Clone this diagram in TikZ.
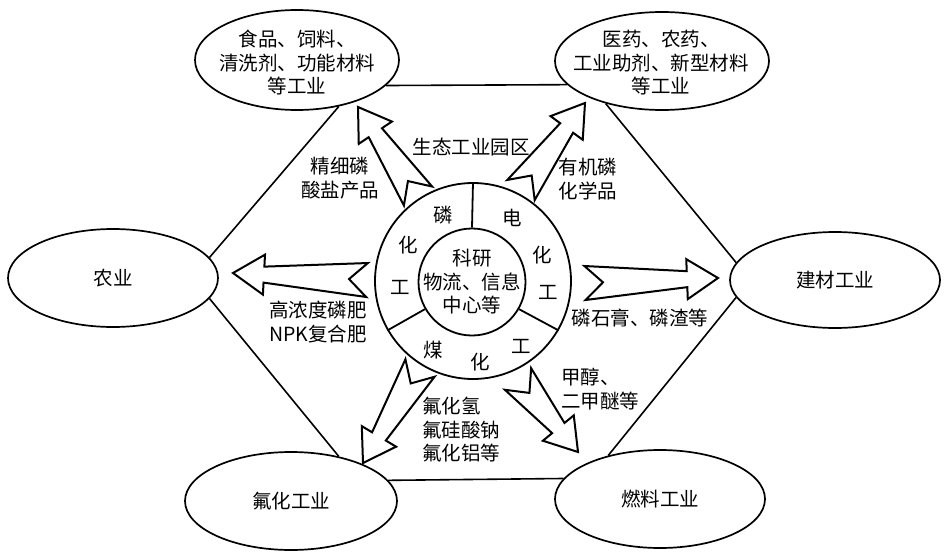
\documentclass[tikz,border=0pt]{standalone}
\usepackage{fontspec}
\newfontfamily\cjk{Noto Sans CJK SC}
\usetikzlibrary{calc,shapes.geometric}

% block arrow with notched tail: #1 tail, #2 tip
\newcommand{\fatarrow}[2]{%
  \draw[fat] (#2)
    -- ($(#2)!31pt!(#1)!20pt!-90:(#1)$)
    -- ($(#2)!31pt!(#1)!8pt!-90:(#1)$)
    -- ($(#1)!17pt!90:(#2)$)
    -- ($(#1)!18pt!(#2)$)
    -- ($(#1)!17pt!-90:(#2)$)
    -- ($(#2)!31pt!(#1)!8pt!90:(#1)$)
    -- ($(#2)!31pt!(#1)!20pt!90:(#1)$)
    -- cycle;}

\begin{document}
\begin{tikzpicture}[
  x=1pt, y=-1pt,
  font=\cjk\fontsize{19.5}{23.5}\selectfont,
  indust/.style={ellipse, draw, line width=1.7pt, inner sep=0pt,
                 minimum width=210pt, minimum height=98pt},
  ringc/.style={circle, draw, line width=1.8pt, inner sep=0pt},
  txt/.style={inner sep=0pt, align=center},
  edge/.style={line width=1.6pt},
  fat/.style={draw, fill=white, line width=2pt, line join=miter}
]
\path[use as bounding box, fill=white] (0,0) rectangle (948,554);

% Industries
\node[indust, minimum width=204pt, minimum height=100pt] (food) at (297,60) {};
\node[txt] (foodtxt) at (297,63) {食品、饲料、\\清洗剂、功能材料\\等工业};

\node[indust, minimum width=214pt] (pharma) at (662,61) {};
\node[txt] (pharmatxt) at (661,63) {医药、农药、\\工业助剂、新型材料\\等工业};

\node[indust] (agri) at (113,278) {农业};
\node[indust, minimum height=96pt] (build) at (835,280) {建材工业};
\node[indust, minimum width=212pt] (fluor) at (291,501) {氟化工业};
\node[indust] (fuel) at (660,499) {燃料工业};

% Hexagon
\draw[edge] (agri.12) -- (food.-48);
\draw[edge] (food.-16) -- (pharma.-166);
\draw[edge] (pharma.-143) -- (build.170);
\draw[edge] (build.190) -- (fuel.140);
\draw[edge] (fuel.168) -- (fluor.12);
\draw[edge] (fluor.43) -- (agri.-12);

% Center ring
\node[ringc, minimum size=196pt] (ring) at (473,281) {};
\node[ringc, minimum size=107pt] (core) at (472,282) {};
\node[txt] (coretxt) at (core) {科研\\物流、信息\\中心等};
\draw[line width=1.8pt] (core.90) -- (ring.90);
\draw[line width=1.8pt] (core.210) -- (ring.210);
\draw[line width=1.8pt] (core.330) -- (ring.330);

\node (p1) at (443,215) {磷};
\node (p2) at (408,245) {化};
\node (p3) at (400,287) {工};
\node (e1) at (512,218) {电};
\node (e2) at (542,255) {化};
\node (e3) at (548,292) {工};
\node (c1) at (433,350) {煤};
\node (c2) at (480,362) {化};
\node (c3) at (521,346) {工};

% Arrow ends
\coordinate (t1) at (418,196); \coordinate (h1) at (358,107);
\coordinate (t2) at (521,190); \coordinate (h2) at (585,103);
\coordinate (t3) at (585,283); \coordinate (h3) at (718,278);
\coordinate (t4) at (367,280); \coordinate (h4) at (233,273);
\coordinate (t5) at (420,368); \coordinate (h5) at (363,463);
\coordinate (t6) at (518,379); \coordinate (h6) at (578,452);

\fatarrow{t1}{h1}
\fatarrow{t2}{h2}
\fatarrow{t3}{h3}
\fatarrow{t4}{h4}
\fatarrow{t5}{h5}
\fatarrow{t6}{h6}

% Products
\node[txt] (fine) at (340,178) {精细磷\\酸盐产品};
\node[txt] (eco) at (471,147) {生态工业园区};
\node[txt] (organic) at (588,179) {有机磷\\化学品};
\node[txt] (fert) at (318,322) {高浓度磷肥\\NPK复合肥};
\node[txt] (gyps) at (640,318) {磷石膏、磷渣等};
\node[txt, align=left, anchor=west] (fluo) at (422,430) {氟化氢\\氟硅酸钠\\氟化铝等};
\node[txt, align=left, anchor=west] (meth) at (561,389) {甲醇、\\二甲醚等};
\end{tikzpicture}
\end{document}
